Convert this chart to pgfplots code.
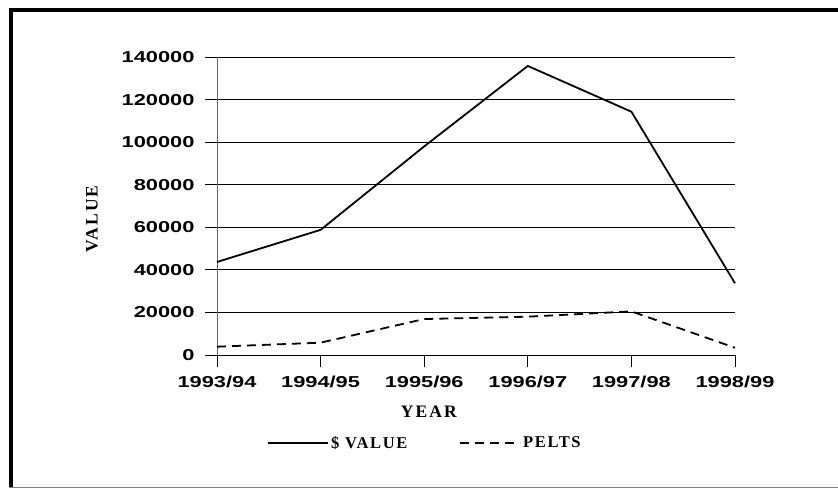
\documentclass[border=0pt]{standalone}
\usepackage{pgfplots}
\pgfplotsset{compat=1.18}
\usepackage{fontspec}
\setmainfont{Liberation Serif}
\newfontfamily\tickfont[FakeStretch=1.38]{Liberation Sans}
\newfontfamily\labfont[LetterSpace=12]{Liberation Serif}
\newfontfamily\legfont[LetterSpace=10]{Liberation Serif}
\begin{document}
\begin{tikzpicture}
\useasboundingbox (0,0) rectangle (838pt,-490pt);
\fill[black] (9pt,-8pt) rectangle (838pt,-12pt);
\fill[black] (9pt,-8pt) rectangle (13pt,-488pt);
\draw[gray, line width=1pt] (9pt,-487.5pt) -- (838pt,-487.5pt);
\begin{axis}[
  at={(217pt,-355pt)}, anchor=south west,
  scale only axis, width=518pt, height=298pt,
  xmin=0, xmax=5, ymin=0, ymax=140000,
  xtick={0,1,2,3,4,5},
  xticklabels={1993/94,1994/95,1995/96,1996/97,1997/98,1998/99},
  ytick={0,20000,40000,60000,80000,100000,120000,140000},
  scaled y ticks=false,
  /pgf/number format/.cd, fixed, 1000 sep={}, assume math mode=true, /pgfplots/.cd,
  axis x line=bottom, axis y line=left, axis line style={-},
  x axis line style={black, line width=1pt},
  y axis line style={black!60, line width=1pt},
  tick align=outside,
  major tick length=12pt,
  tick style={black, line width=1pt},
  ymajorgrids, grid style={black, line width=1pt},
  ticklabel style={font=\tickfont\bfseries\fontsize{15.8}{18}\selectfont},
  yticklabel style={xshift=-7pt},
  xticklabel style={yshift=-6pt},
  xlabel={YEAR}, ylabel={VALUE},
  label style={font=\labfont\bfseries\fontsize{17.5}{20}\selectfont},
  xlabel style={at={(rel axis cs:0.409,0)}, anchor=center, yshift=-57pt},
  ylabel style={at={(rel axis cs:-0.2413,0.456)}, anchor=center},
  legend style={at={(rel axis cs:0.4015,0)}, anchor=center, yshift=-88pt, draw=none,
    font=\legfont\bfseries\fontsize{16.5}{19}\selectfont, legend columns=2,
    /tikz/every even column/.append style={column sep=50pt}},
  legend image code/.code={\draw[#1] (0pt,0pt) -- (60pt,0pt);},
  clip=false,
]
\addplot[black, line width=1.8pt] coordinates {(0,43700) (1,58800) (2,98000) (3,135800) (4,114300) (5,33700)};
\addlegendentry{\$ VALUE}
\addplot[black, line width=1.8pt, dash pattern=on 9pt off 6pt] coordinates {(0,3900) (1,5800) (2,16900) (3,18000) (4,20500) (5,3400)};
\addlegendentry{PELTS}
\end{axis}
\end{tikzpicture}
\end{document}
